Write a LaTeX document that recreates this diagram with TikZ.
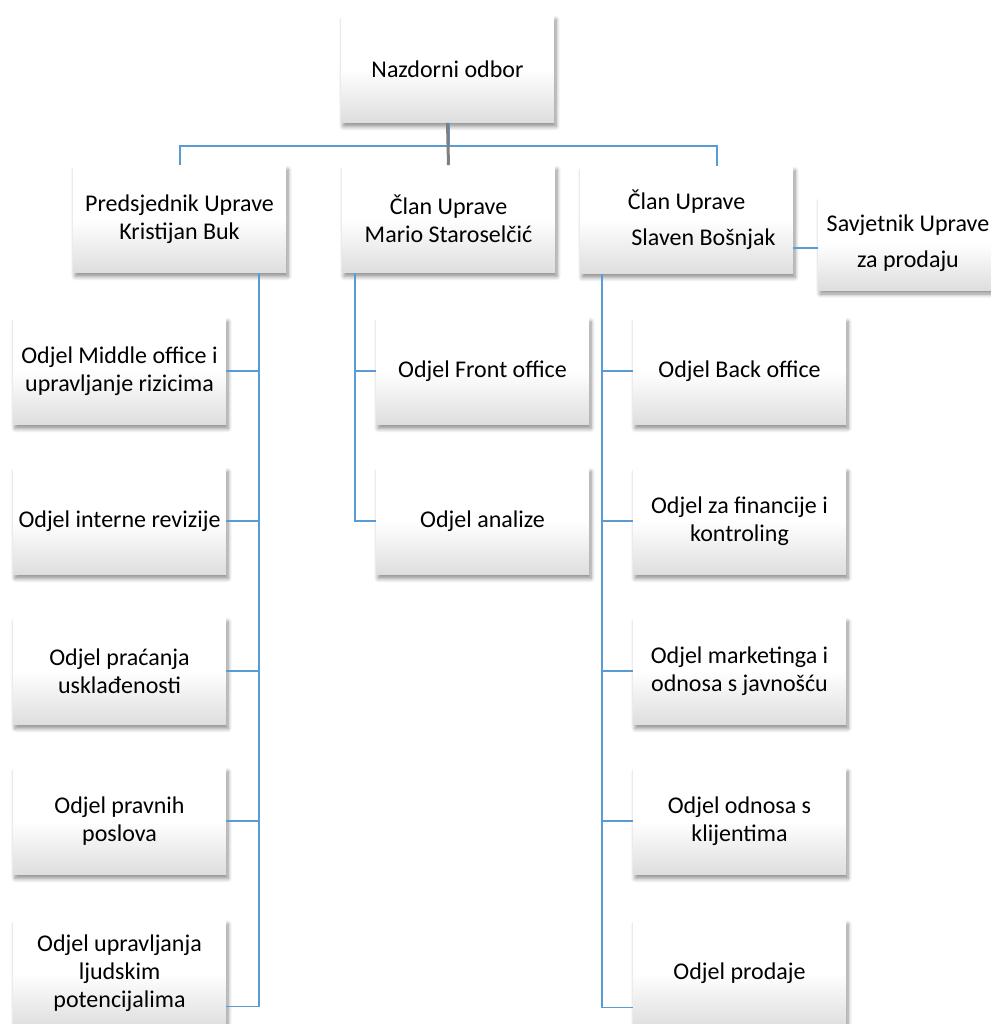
\documentclass[tikz,border=0pt]{standalone}
\usepackage{fontspec}
\setmainfont{Carlito}
\usetikzlibrary{shadows.blur,calc}
\definecolor{cblue}{HTML}{5B9BD5}
\definecolor{cgray}{HTML}{7F7F7F}
\tikzset{
  box/.style={minimum width=106.5pt, minimum height=53.5pt, align=center, inner sep=2pt,
    top color=white, bottom color=black!13, middle color=white,
    blur shadow={shadow xshift=1pt, shadow yshift=-2pt, shadow blur steps=6, shadow opacity=45, shadow blur radius=2pt},
    font=\fontsize{12}{14}\selectfont},
  conn/.style={draw=cblue, line width=0.9pt},
  grayline/.style={draw=cgray, line width=1.5pt}
}
\begin{document}
\begin{tikzpicture}[x=0.5pt,y=-0.5pt]
\useasboundingbox (0,0) rectangle (991,1024);
\clip (0,0) rectangle (991,1024);
% top
\node[box] (nad) at (447.5,69) {Nazdorni odbor};
\node[box] (pred) at (179.5,219) {Predsjednik Uprave\\Kristijan Buk};
\node[box] (mario) at (448.5,219) {Član Uprave\\Mario Staroselčić};
\node[box] (slaven) at (686.5,220) {Član Uprave\\[4pt]\hspace*{17pt}Slaven Bošnjak};
\node[box, minimum width=90pt, minimum height=46.5pt] (sav) at (908,243.5) {Savjetnik Uprave\\[4pt]za prodaju};
% left column
\node[box] (l1) at (119.5,371) {Odjel Middle office i\\upravljanje rizicima};
\node[box] (l2) at (119.5,521) {Odjel interne revizije};
\node[box] (l3) at (119.5,671) {Odjel praćanja\\usklađenosti};
\node[box] (l4) at (119.5,821) {Odjel pravnih\\poslova};
\node[box] (l5) at (119.5,973.5) {Odjel upravljanja\\ljudskim\\potencijalima};
% middle column
\node[box] (m1) at (482.5,371) {Odjel Front office};
\node[box] (m2) at (482.5,521) {Odjel analize};
% right column
\node[box] (r1) at (739.5,371) {Odjel Back office};
\node[box] (r2) at (739.5,521) {Odjel za financije i\\kontroling};
\node[box] (r3) at (739.5,671) {Odjel marketinga i\\odnosa s javnošću};
\node[box] (r4) at (739.5,821) {Odjel odnosa s\\klijentima};
\node[box] (r5) at (739.5,973.5) {Odjel prodaje};
% helper coordinates
\coordinate (H) at (0,146);
\coordinate (Px) at (180,0);
\coordinate (Lx) at (259,0);
\coordinate (Mx) at (355,0);
\coordinate (Rx) at (602,0);
\coordinate (Sx) at (717,0);
\coordinate (L5c) at ($(l5.south east)+(0,-21)$);
\coordinate (R5c) at ($(r5.south west)+(0,-20)$);
% top connectors
\draw[conn] ([xshift=0.8pt]nad.south) -- ([xshift=0.8pt]nad.south |- H);
\draw[conn] (Px |- pred.north) -- (Px |- H) -- (Sx |- H) -- (Sx |- slaven.north);
\draw[grayline] (nad.south) -- (mario.north);
\draw[conn] ([yshift=-14pt]slaven.east) -- ([yshift=-14pt]slaven.east -| sav.west);
% left trunk
\draw[conn] (pred.south -| Lx) -- (Lx |- L5c) -- (L5c);
\foreach \n in {l1,l2,l3,l4} \draw[conn] (\n.east) -- (\n.east -| Lx);
% middle trunk
\draw[conn] (mario.south -| Mx) -- (Mx |- m2.west) -- (m2.west);
\draw[conn] (m1.west) -- (m1.west -| Mx);
% right trunk
\draw[conn] (slaven.south -| Rx) -- (Rx |- R5c) -- (R5c);
\foreach \n in {r1,r2,r3,r4} \draw[conn] (\n.west) -- (\n.west -| Rx);
\end{tikzpicture}
\end{document}
